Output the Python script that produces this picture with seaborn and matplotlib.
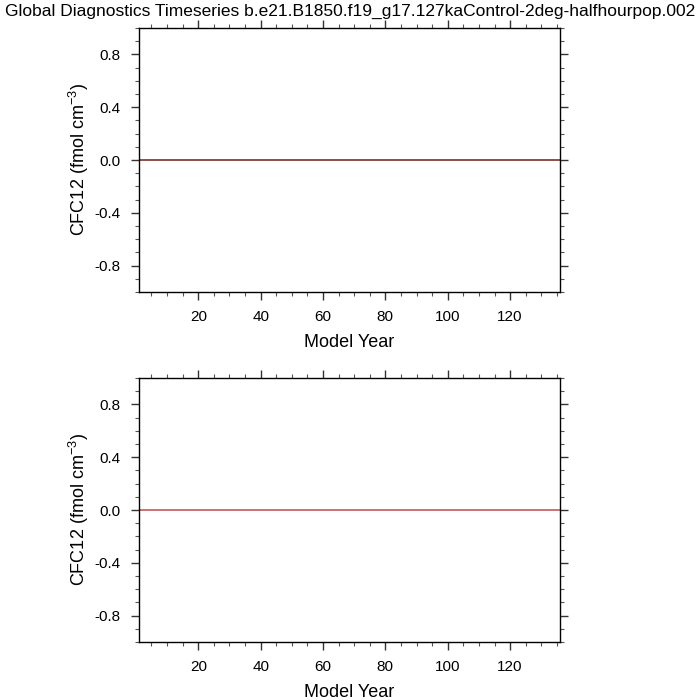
import numpy as np
import pandas as pd
import seaborn as sns
import matplotlib.pyplot as plt
from matplotlib.ticker import MultipleLocator

# model years and global CFC12 means (all zero in this run)
years = list(range(1, 137))
cfc12_top = [0.0] * len(years)
cfc12_bottom = [0.0] * len(years)

title = 'Global Diagnostics Timeseries b.e21.B1850.f19_g17.127kaControl-2deg-halfhourpop.002'
ylabel = 'CFC12 (fmol cm$^{-3}$)'
xlabel = 'Model Year'
yticks = [-0.8, -0.4, 0.0, 0.4, 0.8]
xticks = [20, 40, 60, 80, 100, 120]

sns.set_style('ticks')
plt.rcParams['font.family'] = ['Liberation Sans', 'DejaVu Sans']
plt.rcParams['mathtext.fontset'] = 'custom'
plt.rcParams['mathtext.rm'] = 'Liberation Sans'
plt.rcParams['text.color'] = 'black'
plt.rcParams['axes.labelcolor'] = 'black'
plt.rcParams['xtick.labelcolor'] = 'black'
plt.rcParams['ytick.labelcolor'] = 'black'

fig = plt.figure(figsize=(7, 7), dpi=100)
ax1 = fig.add_axes([0.1986, 0.5829, 0.6014, 0.377])
ax2 = fig.add_axes([0.1986, 0.0829, 0.6014, 0.377])

panels = [(ax1, cfc12_top, '#7b2f2f'), (ax2, cfc12_bottom, '#c25a5a')]
for ax, vals, col in panels:
    df = pd.DataFrame({'year': years, 'cfc12': vals})
    sns.lineplot(data=df, x='year', y='cfc12', ax=ax, color=col, linewidth=1.2)
    ax.set_xlim(1, 136)
    ax.set_ylim(-1, 1)
    ax.set_xticks(xticks)
    ax.set_yticks(yticks)
    ax.set_yticklabels([f'{v:.1f}' for v in yticks])
    ax.xaxis.set_minor_locator(MultipleLocator(5))
    ax.yaxis.set_minor_locator(MultipleLocator(0.1))
    ax.tick_params(which='major', direction='out', length=6, width=1,
                   top=True, right=True, labelsize=11, color='#333333', pad=7)
    ax.tick_params(which='minor', direction='out', length=3, width=0.8,
                   top=True, right=True, color='#555555')
    for s in ax.spines.values():
        s.set_visible(True)
        s.set_linewidth(1)
        s.set_color('black')
    ax.set_xlabel(xlabel, fontsize=13, labelpad=7)
    ax.set_ylabel(ylabel, fontsize=13, labelpad=3)

fig.text(0.5, 0.983, title, ha='center', va='center', fontsize=12.5)

fig.savefig('out.png', dpi=100)
plt.close()
